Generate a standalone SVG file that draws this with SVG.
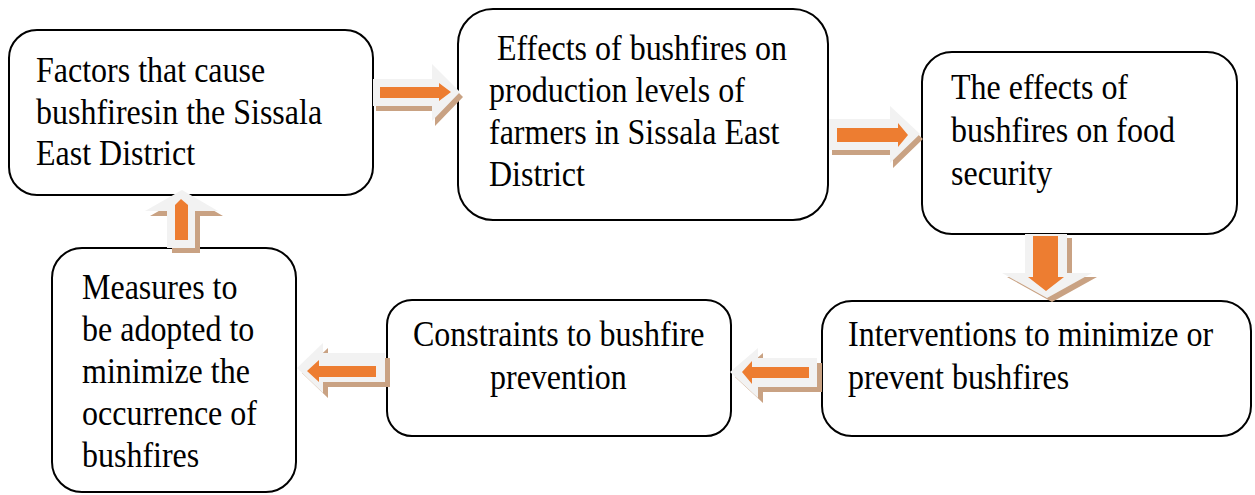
<svg xmlns="http://www.w3.org/2000/svg" width="1255" height="495" viewBox="0 0 1255 495">
<style>
.box{fill:#fff;stroke:#000;stroke-width:2}
.t{font-family:"Liberation Serif","Times New Roman",serif;font-size:32px;fill:#000}
.g{fill:#f2f2f2}
.s{fill:#c9a283}
.o{fill:#ed7d31}
</style>
<rect width="1255" height="495" fill="#fff"/>
<g id="n1"><rect class="box" x="9" y="30" width="364" height="165" rx="28"/>
<text class="t" transform="translate(36,82) scale(1,1.1)">Factors that cause</text>
<text class="t" transform="translate(36,124) scale(1,1.1)">bushfiresin the Sissala</text>
<text class="t" transform="translate(36,165) scale(1,1.1)">East District</text></g>
<g id="n2"><rect class="box" x="458" y="9" width="370" height="211" rx="35"/>
<text class="t" transform="translate(497,60) scale(1,1.1)">Effects of bushfires on</text>
<text class="t" transform="translate(489,102) scale(1,1.1)">production levels of</text>
<text class="t" transform="translate(489,144) scale(1,1.1)">farmers in Sissala East</text>
<text class="t" transform="translate(489,186) scale(1,1.1)">District</text></g>
<g id="n3"><rect class="box" x="922" y="52" width="315" height="182" rx="30"/>
<text class="t" transform="translate(951,99) scale(1,1.1)">The effects of</text>
<text class="t" transform="translate(951,142) scale(1,1.1)">bushfires on food</text>
<text class="t" transform="translate(951,185) scale(1,1.1)">security</text></g>
<g id="n4"><rect class="box" x="822" y="301" width="429" height="135" rx="30"/>
<text class="t" transform="translate(848,346) scale(1,1.1)">Interventions to minimize or</text>
<text class="t" transform="translate(848,389) scale(1,1.1)">prevent bushfires</text></g>
<g id="n5"><rect class="box" x="387" y="300" width="344" height="136" rx="25"/>
<text class="t" transform="translate(413,346) scale(1,1.1)">Constraints to bushfire</text>
<text class="t" transform="translate(490,389) scale(1,1.1)">prevention</text></g>
<g id="n6"><rect class="box" x="52" y="248" width="244" height="244" rx="30"/>
<text class="t" transform="translate(82,299) scale(1,1.1)">Measures to</text>
<text class="t" transform="translate(82,341) scale(1,1.1)">be adopted to</text>
<text class="t" transform="translate(82,383) scale(1,1.1)">minimize the</text>
<text class="t" transform="translate(82,425) scale(1,1.1)">occurrence of</text>
<text class="t" transform="translate(82,467) scale(1,1.1)">bushfires</text></g>
<g id="connectors">
<g id="a1"><polygon class="s" transform="translate(3,5)" points="373,79 432,79 432,64 460,92 432,121 432,106 373,106"/>
<polygon class="g" points="373,79 432,79 432,64 460,92 432,121 432,106 373,106"/>
<polygon class="o" points="380,87 439,87 439,83 451,92 439,101 439,98 380,98"/></g>
<g id="a2"><polygon class="s" transform="translate(3,5)" points="829,119 890,119 890,106 920,134 890,163 890,150 829,150"/>
<polygon class="g" points="829,119 890,119 890,106 920,134 890,163 890,150 829,150"/>
<polygon class="o" points="837,128 898,128 898,123 908,135 898,147 898,142 837,142"/></g>
<g id="a3"><polygon class="s" transform="translate(5,4)" points="1025,234 1067,234 1067,273 1092,273 1047,298 1002,273 1025,273"/>
<polygon class="g" points="1025,234 1067,234 1067,273 1092,273 1047,298 1002,273 1025,273"/>
<polygon class="o" points="1033,236 1058,236 1058,277 1064,277 1046,291 1028,277 1033,277"/></g>
<g id="a4"><polygon class="s" transform="translate(5,5)" points="297,368 323,343 323,353 385,353 385,382 323,382 323,393"/>
<polygon class="g" points="297,368 323,343 323,353 385,353 385,382 323,382 323,393"/>
<polygon class="o" points="307,371 319,360 319,366 376,366 376,377 319,377 319,382"/></g>
<g id="a5"><polygon class="s" transform="translate(5,5)" points="730,372 758,348 758,358 817,358 817,387 758,387 758,398"/>
<polygon class="g" points="730,372 758,348 758,358 817,358 817,387 758,387 758,398"/>
<polygon class="o" points="742,372 752,361 752,367 809,367 809,378 752,378 752,384"/></g>
<g id="a6"><polygon class="s" transform="translate(5,5)" points="182,190 218,211 195,211 195,248 167,248 167,211 145,211"/>
<polygon class="g" points="182,190 218,211 195,211 195,248 167,248 167,211 145,211"/>
<polygon class="o" points="175,205 181,199 188,205 188,240 175,240"/></g>
</g>
</svg>
